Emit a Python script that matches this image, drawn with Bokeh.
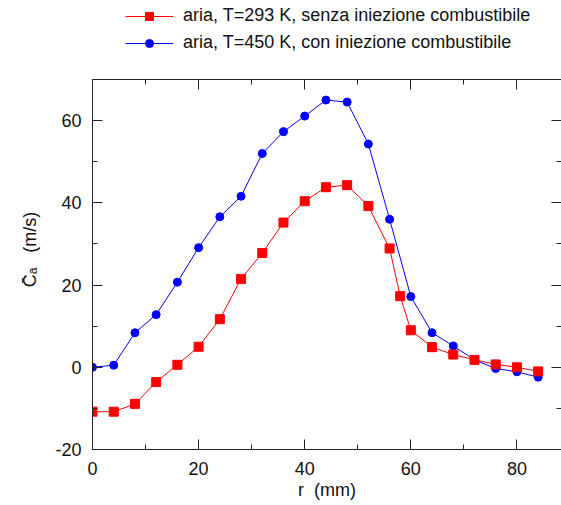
from bokeh.plotting import figure
from bokeh.layouts import column
from bokeh.models import (LinearAxis, SingleIntervalTicker, Legend, LegendItem,
                          ColumnDataSource, Range1d, NumeralTickFormatter)
from bokeh.embed import file_html
from bokeh.resources import INLINE

# ---- data ----
r_cold = [0, 4, 8, 12, 16, 20, 24, 28, 32, 36, 40, 44, 48, 52, 56, 58, 60, 64, 68, 72, 76, 80, 84]
c_cold = [-10.8, -10.8, -8.9, -3.6, 0.6, 5.0, 11.7, 21.5, 27.8, 35.2, 40.4, 43.8, 44.3, 39.2, 28.9, 17.3, 9.0, 4.9, 3.1, 1.8, 0.7, 0.0, -1.0]
r_hot = [0, 4, 8, 12, 16, 20, 24, 28, 32, 36, 40, 44, 48, 52, 56, 60, 64, 68, 72, 76, 80, 84]
c_hot = [0.0, 0.5, 8.4, 12.8, 20.7, 29.1, 36.6, 41.6, 52.0, 57.3, 61.1, 65.0, 64.5, 54.3, 36.0, 17.2, 8.4, 5.2, 1.8, -0.3, -1.1, -2.4]
label_cold = "aria, T=293 K, senza iniezione combustibile"
label_hot = "aria, T=450 K, con iniezione combustibile"
x_label = "r\u00a0\u00a0(mm)"
y_label = "\u00a0" * 6 + "C\u0304\u2090\u00a0\u00a0\u00a0(m/s)"

FONT = "Liberation Sans"
INK = "#111111"
RED = "#ff0000"
BLUE = "#0000ff"

src_c = ColumnDataSource(dict(x=r_cold, y=c_cold))
src_h = ColumnDataSource(dict(x=r_hot, y=c_hot))

# ---- main plot ----
p = figure(width=561, height=426, output_backend="svg", toolbar_location=None,
           x_range=Range1d(0, 88.4), y_range=Range1d(-20, 70),
           min_border_left=92, min_border_right=0, min_border_top=0, min_border_bottom=56,
           x_axis_location=None, y_axis_location=None)
p.grid.visible = False
p.outline_line_color = None

xt = SingleIntervalTicker(interval=20, num_minor_ticks=2)
yt = SingleIntervalTicker(interval=20, num_minor_ticks=2)
fmt = NumeralTickFormatter(format="0")

def style(ax, labels=True):
    ax.axis_line_color = "#222222"
    ax.axis_line_width = 1
    ax.major_tick_in = 10
    ax.major_tick_out = 0
    ax.minor_tick_in = 5
    ax.minor_tick_out = 0
    ax.major_tick_line_color = "#222222"
    ax.minor_tick_line_color = "#222222"
    if labels:
        ax.formatter = fmt
        ax.major_label_text_font = FONT
        ax.major_label_text_font_size = "18px"
        ax.major_label_text_color = INK
    else:
        ax.major_label_text_font_size = "1px"
        ax.major_label_text_color = None
        ax.major_label_standoff = 0

p.line("x", "y", source=src_h, line_color=BLUE, line_width=1)
p.scatter("x", "y", source=src_h, marker="circle", size=8, fill_color=BLUE, line_color=BLUE)
p.line("x", "y", source=src_c, line_color=RED, line_width=1)
p.scatter("x", "y", source=src_c, marker="square", size=9, fill_color=RED, line_color=RED)

bx = LinearAxis(ticker=xt, axis_label=x_label)
style(bx)
bx.major_label_standoff = 12
bx.axis_label_standoff = 2
bx.axis_label_text_font = FONT
bx.axis_label_text_font_size = "18px"
bx.axis_label_text_font_style = "normal"
bx.axis_label_text_color = INK
p.add_layout(bx, "below")

ly = LinearAxis(ticker=yt, axis_label=y_label)
style(ly)
ly.major_label_standoff = 11
ly.axis_label_standoff = 12
ly.axis_label_text_font = FONT
ly.axis_label_text_font_size = "18px"
ly.axis_label_text_font_style = "normal"
ly.axis_label_text_color = INK
p.add_layout(ly, "left")

tx = LinearAxis(ticker=xt)
style(tx, labels=False)
p.add_layout(tx, "above")

ry = LinearAxis(ticker=yt)
style(ry, labels=False)
p.add_layout(ry, "right")

# ---- legend strip above the plot (its ranges show none of the data) ----
lg = figure(width=561, height=79, output_backend="svg", toolbar_location=None,
            x_range=Range1d(1000, 1001), y_range=Range1d(1000, 1001),
            min_border_left=0, min_border_right=0, min_border_top=0, min_border_bottom=0,
            x_axis_location=None, y_axis_location=None)
lg.grid.visible = False
lg.outline_line_color = None
k_lc = lg.line("x", "y", source=src_c, line_color=RED, line_width=1)
k_sc = lg.scatter("x", "y", source=src_c, marker="square", size=9, fill_color=RED, line_color=RED)
k_lh = lg.line("x", "y", source=src_h, line_color=BLUE, line_width=1)
k_sh = lg.scatter("x", "y", source=src_h, marker="circle", size=8, fill_color=BLUE, line_color=BLUE)

legend = Legend(items=[LegendItem(label=label_cold, renderers=[k_lc, k_sc]),
                       LegendItem(label=label_hot, renderers=[k_lh, k_sh])],
                location=(33, 26), orientation="vertical")
legend.padding = 0
legend.margin = 0
legend.spacing = 6
legend.glyph_width = 48
legend.glyph_height = 20
legend.label_height = 20
legend.label_standoff = 10
legend.label_text_font = FONT
legend.label_text_font_size = "18px"
legend.label_text_color = INK
legend.border_line_color = None
legend.background_fill_alpha = 0
lg.add_layout(legend)

layout = column(lg, p, spacing=0)
open("out.html", "w").write(file_html(layout, INLINE))
